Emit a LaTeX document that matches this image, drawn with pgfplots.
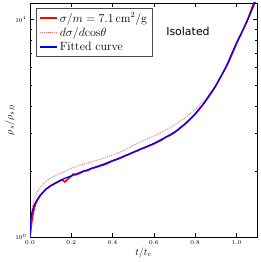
\documentclass[border=0pt]{standalone}
\usepackage{pgfplots}
\pgfplotsset{compat=1.18}
\usepackage{fontspec}
\newfontfamily\dejavu{DejaVu Sans}
\begin{document}
\begin{tikzpicture}
\path[use as bounding box] (-30bp,-25bp) rectangle (231bp,237bp);
\begin{axis}[
  scale only axis,
  width=227bp, height=234bp,
  ymode=log,
  xmin=0, xmax=1.1, ymin=1, ymax=11.9,
  xtick={0,0.2,0.4,0.6,0.8,1.0},
  xticklabel style={/pgf/number format/fixed,/pgf/number format/fixed zerofill,/pgf/number format/precision=1},
  ytick={1,10},
  tick align=inside,
  major tick length=4bp,
  minor tick length=2bp,
  tick label style={font=\fontsize{6.5}{7}\selectfont},
  axis line style={black, line width=0.8bp},
  every tick/.style={black, line width=0.5bp},
  xlabel={$t/t_c$},
  ylabel={$\rho_s/\rho_{s,0}$},
  xlabel style={at={(axis description cs:0.5,-0.068)},anchor=center},
  ylabel style={at={(axis description cs:-0.088,0.5)},anchor=center},
  legend cell align=left,
  legend style={at={(6/227,1-5/234)},anchor=north west,draw=black!70,
    font=\fontsize{12}{14}\selectfont, row sep=0bp, inner xsep=3bp, inner ysep=2.5bp},
  clip=true,
]
\addplot[red, line width=1.6bp] coordinates {
(0.000,1.00)(0.003,1.06)(0.006,1.12)(0.010,1.20)(0.015,1.28)(0.020,1.35)(0.025,1.40)(0.030,1.44)
(0.040,1.50)(0.050,1.55)(0.060,1.59)(0.070,1.63)(0.080,1.67)(0.090,1.69)(0.100,1.72)(0.110,1.74)
(0.120,1.76)(0.130,1.78)(0.140,1.80)(0.150,1.82)(0.160,1.82)(0.170,1.79)(0.180,1.83)(0.190,1.87)
(0.200,1.90)(0.210,1.95)(0.220,1.93)(0.240,1.96)(0.260,2.01)(0.280,2.02)(0.300,2.07)(0.320,2.09)
(0.340,2.12)(0.360,2.15)(0.380,2.19)(0.400,2.24)(0.420,2.27)(0.440,2.31)(0.460,2.36)(0.480,2.40)
(0.500,2.45)(0.520,2.49)(0.540,2.54)(0.560,2.58)(0.580,2.63)(0.600,2.68)(0.620,2.74)(0.640,2.80)
(0.660,2.88)(0.680,2.94)(0.700,3.02)(0.720,3.12)(0.740,3.24)(0.760,3.36)(0.780,3.50)(0.800,3.66)
(0.820,3.86)(0.840,4.08)(0.860,4.35)(0.880,4.62)(0.900,4.95)(0.920,5.35)(0.940,5.80)(0.960,6.30)
(0.980,6.95)(1.000,7.70)(1.020,8.45)(1.040,9.30)(1.060,10.3)(1.080,11.6)(1.100,12.9)
};
\addlegendentry{$\sigma/m = 7.1\,\mathrm{cm}^2/\mathrm{g}$}
\addplot[red!55, dash pattern=on 1bp off 1bp, line width=0.9bp] coordinates {
(0.000,1.00)(0.005,1.22)(0.010,1.35)(0.020,1.50)(0.030,1.58)(0.040,1.64)(0.060,1.74)(0.090,1.84)
(0.120,1.91)(0.150,1.97)(0.200,2.07)(0.250,2.15)(0.300,2.22)(0.350,2.29)(0.400,2.38)(0.450,2.49)
(0.500,2.63)(0.550,2.78)(0.600,2.91)(0.650,3.07)(0.700,3.27)(0.750,3.52)(0.800,3.86)(0.850,4.30)
(0.900,4.98)(0.950,6.07)(1.000,7.75)(1.050,9.65)(1.100,12.7)
};
\addlegendentry{$d\sigma/d\mathrm{cos}\theta$}
\addplot[blue, line width=1.3bp] coordinates {
(0.000,1.00)(0.002,1.12)(0.005,1.22)(0.010,1.30)(0.020,1.40)(0.030,1.46)(0.050,1.56)(0.075,1.65)
(0.100,1.72)(0.150,1.83)(0.200,1.91)(0.250,1.99)(0.300,2.07)(0.350,2.15)(0.400,2.24)(0.450,2.34)
(0.500,2.45)(0.550,2.57)(0.600,2.69)(0.650,2.85)(0.700,3.03)(0.750,3.30)(0.800,3.68)(0.850,4.20)
(0.900,4.95)(0.950,6.05)(1.000,7.78)(1.050,9.70)(1.100,12.6)
};
\addlegendentry{Fitted curve}
\node[font=\dejavu\fontsize{11}{13}\selectfont] at (rel axis cs:0.696,0.88) {Isolated};
\end{axis}
\end{tikzpicture}
\end{document}
